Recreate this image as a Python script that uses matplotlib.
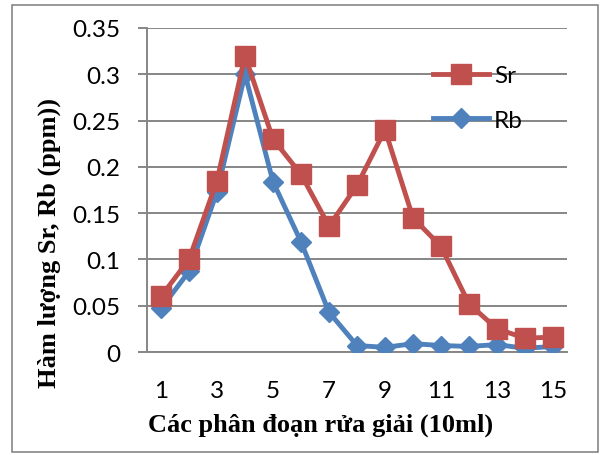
import matplotlib.pyplot as plt
from matplotlib.patches import Rectangle

# Elution fractions (10 ml each) and measured concentrations (ppm)
fractions = list(range(1, 16))
sr_ppm = [0.060, 0.100, 0.185, 0.320, 0.230, 0.192, 0.136, 0.180,
          0.240, 0.145, 0.114, 0.052, 0.025, 0.015, 0.016]
rb_ppm = [0.047, 0.087, 0.173, 0.300, 0.184, 0.119, 0.043, 0.007,
          0.005, 0.009, 0.007, 0.006, 0.008, 0.004, 0.006]
x_ticks = [1, 3, 5, 7, 9, 11, 13, 15]
y_ticks = [0, 0.05, 0.1, 0.15, 0.2, 0.25, 0.3, 0.35]
y_tick_labels = ['0', '0.05', '0.1', '0.15', '0.2', '0.25', '0.3', '0.35']

RED = '#C0504D'
BLUE = '#4F81BD'
GRID = '#868686'
TICK_FONT = 'Lato'
TITLE_FONT = 'Liberation Serif'


def make_figure():
    fig = plt.figure(figsize=(6, 4.56), dpi=100)
    W, H = 600, 456
    ax = fig.add_axes([147 / W, 1 - 353 / H, 420 / W, 324 / H])

    rb_line, = ax.plot(fractions, rb_ppm, color=BLUE, lw=3.5, marker='D',
                       ms=10.5, mec=BLUE, zorder=3, label='Rb')
    sr_line, = ax.plot(fractions, sr_ppm, color=RED, lw=3.5, marker='s',
                       ms=14, mec=RED, zorder=4, label='Sr')

    ax.set_xlim(0.5, 15.5)
    ax.set_ylim(0, 0.35)
    ax.set_xticks(x_ticks)
    ax.set_yticks(y_ticks)
    ax.set_yticklabels(y_tick_labels)
    ax.grid(axis='y', color=GRID, lw=1.4, zorder=0)
    ax.set_axisbelow(True)
    for side in ('top', 'right'):
        ax.spines[side].set_visible(False)
    for side in ('left', 'bottom'):
        ax.spines[side].set_color(GRID)
        ax.spines[side].set_linewidth(1.4)
    ax.tick_params(axis='y', length=6.5, width=1.4, color=GRID, pad=13,
                   labelsize=17.5)
    ax.tick_params(axis='x', length=0, pad=20, labelsize=17.5)
    for lab in ax.get_xticklabels() + ax.get_yticklabels():
        lab.set_fontfamily(TICK_FONT)

    ax.legend(handles=[sr_line, rb_line], loc='center left',
              bbox_to_anchor=(421 / W, 1 - 99 / H),
              bbox_transform=fig.transFigure, frameon=False, numpoints=1,
              handlelength=2.3, handletextpad=0.2, labelspacing=0.95,
              borderpad=0, prop={'family': TICK_FONT, 'size': 17.5})

    fig.text(321 / W, 1 - 425 / H, 'Các phân đoạn rửa giải (10ml)',
             ha='center', va='center', fontsize=19, fontweight='bold',
             family=TITLE_FONT)
    fig.text(49 / W, 1 - 243 / H, 'Hàm lượng Sr, Rb (ppm))',
             ha='center', va='center', rotation=90, fontsize=19,
             fontweight='bold', family=TITLE_FONT)

    # chart area border
    fig.add_artist(Rectangle((12 / W, 1 - 453 / H), 586 / W, 447 / H,
                             transform=fig.transFigure, fill=False,
                             ec=GRID, lw=1.2))
    fig.savefig('out.png', dpi=100)


def main():
    make_figure()


if __name__ == '__main__':
    main()
